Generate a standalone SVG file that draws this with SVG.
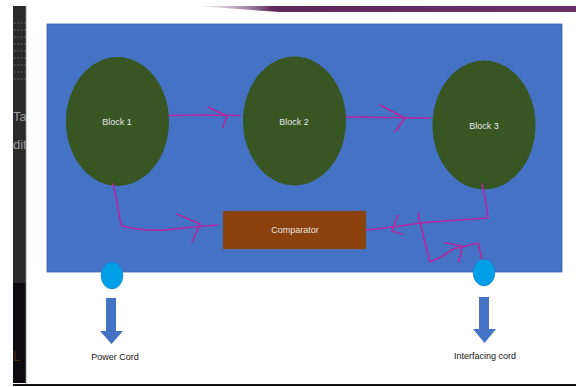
<svg xmlns="http://www.w3.org/2000/svg" width="576" height="387" viewBox="0 0 576 387">
  <defs>
    <linearGradient id="topbar" x1="0" y1="0" x2="1" y2="0">
      <stop offset="0" stop-color="#d8cfd8" stop-opacity="0.3"/>
      <stop offset="0.2" stop-color="#5e2a5e"/>
      <stop offset="1" stop-color="#6a2e66"/>
    </linearGradient>
    <clipPath id="stripclip"><rect x="13" y="6" width="13" height="377"/></clipPath>
    <style>
      .block { fill: #375623; }
      .blabel { font-family: "Liberation Sans", Arial, sans-serif; font-size: 9px; fill: #e6e6e6; text-anchor: middle; }
      .label { font-family: "Liberation Sans", Arial, sans-serif; font-size: 9px; fill: #111; text-anchor: middle; }
      .conn { fill: none; stroke: #b5279e; stroke-width: 1.6; stroke-linecap: round; stroke-linejoin: round; }
      .port { fill: #00a0e8; stroke: #2f6cc0; stroke-width: 0.5; }
      .down { fill: #4472c4; }
    </style>
  </defs>

  <rect x="0" y="0" width="576" height="387" fill="#ffffff"/>

  <!-- left dark strip (screen background) -->
  <g id="left-strip">
    <rect x="13" y="6" width="13" height="377" fill="#2a2a2a"/>
    <rect x="13" y="283" width="13" height="100" fill="#0e0b10"/>
    <g clip-path="url(#stripclip)" stroke="#4a4a4a" stroke-width="1.5" stroke-dasharray="3 1 2 1">
      <line x1="13" y1="23" x2="26" y2="23"/>
      <line x1="13" y1="30" x2="26" y2="30"/>
      <line x1="13" y1="37" x2="26" y2="37"/>
      <line x1="13" y1="44" x2="26" y2="44"/>
      <line x1="13" y1="51" x2="26" y2="51"/>
      <line x1="13" y1="58" x2="26" y2="58"/>
      <line x1="13" y1="65" x2="26" y2="65"/>
      <line x1="13" y1="72" x2="26" y2="72"/>
      <line x1="13" y1="79" x2="26" y2="79"/>
    </g>
    <g clip-path="url(#stripclip)" font-family="Liberation Sans, Arial, sans-serif" font-size="13" fill="#9a9a9a">
      <text x="13" y="121">Ta</text>
      <text x="13" y="149">dit</text>
      <text x="13" y="361" fill="#3a2a14" font-size="14">L</text>
    </g>
    <line x1="26" y1="6" x2="26" y2="384" stroke="#8a8a8a" stroke-width="0.8"/>
    <line x1="13" y1="385" x2="576" y2="385" stroke="#111" stroke-width="2"/>
  </g>

  <!-- top purple bar -->
  <polygon points="196,6 576,6 576,12 280,12" fill="url(#topbar)"/>

  <!-- blue panel -->
  <rect id="panel" x="47" y="24" width="515" height="248" fill="#4472c4" stroke="#3b63ad" stroke-width="0.8"/>

  <g id="block1">
    <ellipse class="block" cx="117.5" cy="121.5" rx="51.5" ry="64.5"/>
    <text class="blabel" x="117" y="125">Block 1</text>
  </g>
  <g id="block2">
    <ellipse class="block" cx="294.5" cy="121" rx="51.5" ry="64.5"/>
    <text class="blabel" x="294" y="125">Block 2</text>
  </g>
  <g id="block3">
    <ellipse class="block" cx="484" cy="125" rx="51.5" ry="64.5"/>
    <text class="blabel" x="484" y="129">Block 3</text>
  </g>
  <g id="comparator">
    <rect x="223" y="211" width="143" height="38" fill="#8b410b" stroke="#6d5a4a" stroke-width="0.5"/>
    <text class="blabel" x="295" y="233" fill="#f2e6dc">Comparator</text>
  </g>

  <g id="power-port">
    <ellipse class="port" cx="112" cy="275.5" rx="11" ry="13.5"/>
  </g>
  <g id="interface-port">
    <ellipse class="port" cx="484" cy="272.5" rx="11" ry="13.5"/>
  </g>

  <g id="power-cord">
    <polygon class="down" points="106,298 116,298 116,331 123,331 111.5,344 100,331 106,331"/>
    <text class="label" x="115" y="360">Power Cord</text>
  </g>
  <g id="interfacing-cord">
    <polygon class="down" points="479,297 489,297 489,329 496,329 484.5,343 473,329 479,329"/>
    <text class="label" x="485" y="359">Interfacing cord</text>
  </g>

  <g id="connectors">
    <!-- Block 1 -> Block 2 -->
    <path class="conn" d="M169,115.5 L200,115 L240,115.5"/>
    <path class="conn" d="M208,107 L227,116 L223,127"/>
    <!-- Block 2 -> Block 3 -->
    <path class="conn" d="M346,117 L390,117.5 L430,118"/>
    <path class="conn" d="M380,105 L405,118 L395,132"/>
    <!-- Block 1 -> Comparator -->
    <path class="conn" d="M113,184 Q116,196 118,208 Q120,222 122,226 Q140,231 165,230 Q190,227 217,225"/>
    <path class="conn" d="M177,214 L200,224 L192,242"/>
    <!-- Block 3 -> Comparator -->
    <path class="conn" d="M482,184 Q486,200 488,218 Q455,220 420,223 Q395,227 366,230"/>
    <path class="conn" d="M398,215 L392,231 L402,234"/>
    <!-- branch to interfacing port -->
    <path class="conn" d="M418,213 L421,227 L430,262 L443,256 L453,249 L478,243 L482,259"/>
    <path class="conn" d="M445,243 L462,246 L459,262"/>
  </g>
</svg>
